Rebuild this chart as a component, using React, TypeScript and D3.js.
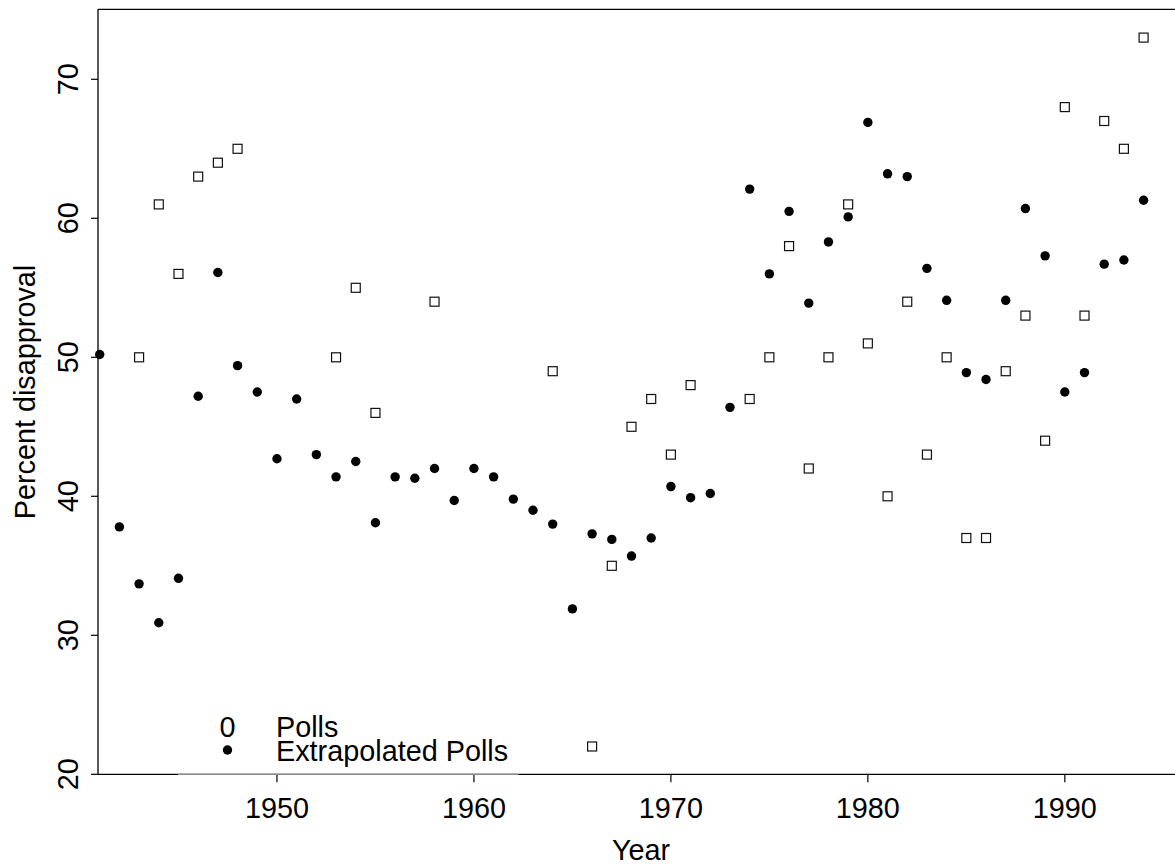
import { useEffect, useRef } from "react"
import * as d3 from "d3"

// survey polls (open squares)
const pollYears = [1943, 1944, 1945, 1946, 1947, 1948, 1953, 1954, 1955, 1958, 1964, 1966, 1967, 1968, 1969, 1970, 1971, 1974, 1975, 1976, 1977, 1978, 1979, 1980, 1981, 1982, 1983, 1984, 1985, 1986, 1987, 1988, 1989, 1990, 1991, 1992, 1993, 1994]
const pollValues = [50, 61, 56, 63, 64, 65, 50, 55, 46, 54, 49, 22, 35, 45, 47, 43, 48, 47, 50, 58, 42, 50, 61, 51, 40, 54, 43, 50, 37, 37, 49, 53, 44, 68, 53, 67, 65, 73]

// extrapolated polls (filled dots)
const extrapYears = [1941, 1942, 1943, 1944, 1945, 1946, 1947, 1948, 1949, 1950, 1951, 1952, 1953, 1954, 1955, 1956, 1957, 1958, 1959, 1960, 1961, 1962, 1963, 1964, 1965, 1966, 1967, 1968, 1969, 1970, 1971, 1972, 1973, 1974, 1975, 1976, 1977, 1978, 1979, 1980, 1981, 1982, 1983, 1984, 1985, 1986, 1987, 1988, 1989, 1990, 1991, 1992, 1993, 1994]
const extrapValues = [50.2, 37.8, 33.7, 30.9, 34.1, 47.2, 56.1, 49.4, 47.5, 42.7, 47.0, 43.0, 41.4, 42.5, 38.1, 41.4, 41.3, 42.0, 39.7, 42.0, 41.4, 39.8, 39.0, 38.0, 31.9, 37.3, 36.9, 35.7, 37.0, 40.7, 39.9, 40.2, 46.4, 62.1, 56.0, 60.5, 53.9, 58.3, 60.1, 66.9, 63.2, 63.0, 56.4, 54.1, 48.9, 48.4, 54.1, 60.7, 57.3, 47.5, 48.9, 56.7, 57.0, 61.3]

const xTicks = [1950, 1960, 1970, 1980, 1990]
const yTicks = [20, 30, 40, 50, 60, 70]
const legendLabels = ["Polls", "Extrapolated Polls"]

const FONT = "'Liberation Sans', Arial, Helvetica, sans-serif"

export default function App() {
  const ref = useRef<SVGSVGElement>(null)

  useEffect(() => {
    const svg = d3.select(ref.current)
    svg.selectAll("*").remove()

    const width = 1175
    const left = 98, top = 9.8, bottom = 774.3
    const plotRight = 1184 // plot box runs past the picture edge

    const x = d3.scaleLinear().domain([1941, 1994]).range([99.7, 1143.6])
    const y = d3.scaleLinear().domain([20, 75]).range([bottom, top])

    const g = svg.append("g").attr("font-family", FONT).attr("font-size", 28.8).attr("fill", "#000")

    // frame (no right side, it is cut off)
    g.append("line").attr("x1", left).attr("x2", left).attr("y1", top - 0.5).attr("y2", bottom)
      .attr("stroke", "#000").attr("stroke-width", 1.3)
    g.append("line").attr("x1", left).attr("x2", width).attr("y1", top - 0.5).attr("y2", top - 0.5)
      .attr("stroke", "#000").attr("stroke-width", 1.3)
    g.append("line").attr("x1", left).attr("x2", width).attr("y1", bottom).attr("y2", bottom)
      .attr("stroke", "#000").attr("stroke-width", 1.3)

    // x axis
    g.selectAll(".xtick").data(xTicks).enter().append("line")
      .attr("x1", d => x(d)).attr("x2", d => x(d))
      .attr("y1", bottom).attr("y2", bottom + 8)
      .attr("stroke", "#000").attr("stroke-width", 1.2)
    g.selectAll(".xlab").data(xTicks).enter().append("text")
      .attr("x", d => x(d)).attr("y", 817.5)
      .attr("text-anchor", "middle")
      .text(d => d)

    // y axis
    g.selectAll(".ytick").data(yTicks).enter().append("line")
      .attr("x1", left).attr("x2", left - 7)
      .attr("y1", d => y(d)).attr("y2", d => y(d))
      .attr("stroke", "#000").attr("stroke-width", 1.2)
    g.selectAll(".ylab").data(yTicks).enter().append("text")
      .attr("transform", d => "translate(78," + y(d) + ") rotate(-90)")
      .attr("text-anchor", "middle")
      .text(d => d)

    // axis titles
    g.append("text")
      .attr("x", (left + plotRight) / 2).attr("y", 860)
      .attr("text-anchor", "middle")
      .text("Year")
    g.append("text")
      .attr("transform", "translate(35," + (top + bottom) / 2 + ") rotate(-90)")
      .attr("text-anchor", "middle")
      .text("Percent disapproval")

    // polls
    const sq = 9
    g.selectAll(".poll").data(pollYears).enter().append("rect")
      .attr("x", d => x(d) - sq / 2)
      .attr("y", (d, i) => y(pollValues[i]) - sq / 2)
      .attr("width", sq).attr("height", sq)
      .attr("fill", "#fff").attr("stroke", "#111").attr("stroke-width", 1.2)

    // extrapolated
    g.selectAll(".extrap").data(extrapYears).enter().append("circle")
      .attr("cx", d => x(d))
      .attr("cy", (d, i) => y(extrapValues[i]))
      .attr("r", 4.7)
      .attr("fill", "#000")

    // legend
    const lg = g.append("g")
    lg.append("line").attr("x1", 178).attr("x2", 518.6).attr("y1", bottom).attr("y2", bottom)
      .attr("stroke", "#8a8a8a").attr("stroke-width", 1.3)
    lg.append("text").attr("x", 227.5).attr("y", 737).attr("text-anchor", "middle").text("0")
    lg.append("circle").attr("cx", 227.5).attr("cy", 750).attr("r", 4.7).attr("fill", "#000")
    lg.selectAll(".lt").data(legendLabels).enter().append("text")
      .attr("x", 276)
      .attr("y", (d, i) => (i === 0 ? 737 : 760.5))
      .text(d => d)
  }, [])

  return (
    <div>
      <style>{`body{margin:0;background:#fff}`}</style>
      <svg ref={ref} width={1175} height={867} style={{ display: "block" }} />
    </div>
  )
}
